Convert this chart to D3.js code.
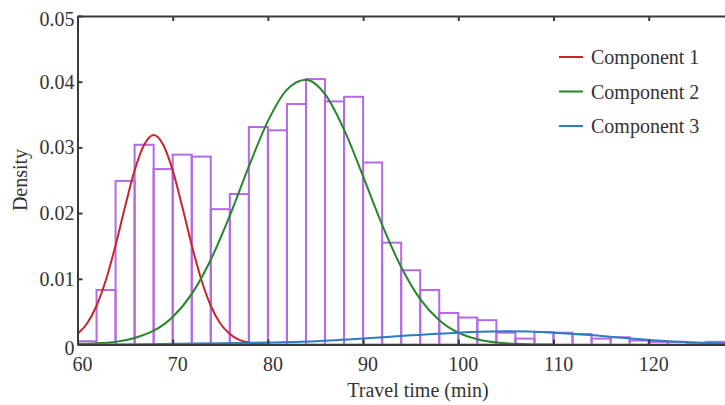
<!DOCTYPE html>
<html>
<head>
<meta charset="utf-8">
<script src="https://cdn.jsdelivr.net/npm/d3@7"></script>
<style>
  body { margin: 0; background: #fff; }
  svg { display: block; font-family: "Liberation Serif", "Times New Roman", serif; }
</style>
</head>
<body>
<div id="chart"></div>
<script>
// histogram, bin width 2 min, left edges
const binLefts = [60, 62, 64, 66, 68, 70, 72, 74, 76, 78, 80, 82, 84, 86, 88, 90, 92,
  94, 96, 98, 100, 102, 104, 106, 108, 110, 112, 114, 116, 118, 120, 122, 124, 126];
const binDensity = [0.0005, 0.0083, 0.0249, 0.0304, 0.0267, 0.0289, 0.0286, 0.0206, 0.0229,
  0.0331, 0.0326, 0.0366, 0.0404, 0.0370, 0.0377, 0.0277, 0.0155, 0.0113, 0.0083, 0.0048,
  0.0041, 0.0037, 0.0018, 0.0009, 0.0019, 0.0018, 0.0016, 0.0009, 0.0011, 0.0006, 0.0004,
  0.0004, 0.0001, 0.0004];
const binWidth = 2;

// mixture component curves
const comp1X = [60, 61, 62, 63, 64, 65, 66, 67, 68, 69, 70, 71, 72, 73, 74, 75, 76, 77, 78, 79, 80];
const comp1Y = [0.0016, 0.0032, 0.0059, 0.0099, 0.0151, 0.0210, 0.0265, 0.0304, 0.0319, 0.0304,
  0.0265, 0.0210, 0.0151, 0.0099, 0.0059, 0.0032, 0.0016, 0.0007, 0.0003, 0.0001, 0.0000];

const comp2X = [60, 62, 64, 66, 68, 70, 72, 74, 76, 78, 80, 82, 84, 86, 88, 90, 92, 94, 96,
  98, 100, 102, 104, 106, 108, 110];
const comp2Y = [0.0001, 0.0002, 0.0004, 0.0010, 0.0021, 0.0042, 0.0077, 0.0129, 0.0196, 0.0271,
  0.0340, 0.0388, 0.0403, 0.0381, 0.0327, 0.0256, 0.0182, 0.0118, 0.0069, 0.0037, 0.0018,
  0.0008, 0.0003, 0.0001, 0.0000, 0.0000];

const comp3X = [60, 65, 70, 75, 80, 85, 90, 95, 100, 105, 110, 115, 120, 125, 130];
const comp3Y = [0.0000, 0.0000, 0.0001, 0.0002, 0.0003, 0.0005, 0.0009, 0.0014, 0.0018, 0.0020,
  0.0018, 0.0013, 0.0007, 0.0003, 0.0001];

const compNames = ["Component 1", "Component 2", "Component 3"];
const compColors = ["#c8262c", "#27862a", "#2b7cc0"];

const xTicks = [60, 70, 80, 90, 100, 110, 120];
const yTicks = [0, 0.01, 0.02, 0.03, 0.04, 0.05];

const width = 725, height = 405;
const [mt, ml] = [16, 77.5];
const bottom = 344.5;

const x = d3.scaleLinear([60, 130], [ml, ml + 70 * 9.52]);
const y = d3.scaleLinear([0, 0.05], [bottom, mt]);

const svg = d3.select("#chart").append("svg")
  .attr("width", width)
  .attr("height", height)
  .attr("viewBox", [0, 0, width, height]);

svg.append("clipPath").attr("id", "plot")
  .append("rect")
  .attr("x", ml).attr("y", mt - 2)
  .attr("width", width - ml).attr("height", bottom - mt + 2);

const plot = svg.append("g").attr("clip-path", "url(#plot)");

// bars (outline only)
plot.append("g")
  .selectAll("rect")
  .data(binLefts.map((b, i) => ({ b, v: binDensity[i] })))
  .join("rect")
  .attr("x", d => x(d.b))
  .attr("y", d => y(d.v))
  .attr("width", d => x(d.b + binWidth) - x(d.b))
  .attr("height", d => y(0) - y(d.v))
  .attr("fill", "none")
  .attr("stroke", "#b46ae4")
  .attr("stroke-width", 2);

const line = d3.line()
  .x(d => x(d[0]))
  .y(d => y(d[1]))
  .curve(d3.curveMonotoneX);

const comps = [
  d3.zip(comp1X, comp1Y),
  d3.zip(comp2X, comp2Y),
  d3.zip(comp3X, comp3Y)
];

plot.append("g")
  .selectAll("path")
  .data(comps)
  .join("path")
  .attr("d", line)
  .attr("fill", "none")
  .attr("stroke", (d, i) => compColors[i])
  .attr("stroke-width", 2);

// axes, ticks inward
const axisColor = "#3a3a3a";
const fmtY = d => d === 0 ? "0" : d3.format(".2f")(d);

const gx = svg.append("g")
  .attr("transform", `translate(0,${bottom})`)
  .call(d3.axisBottom(x).tickValues(xTicks).tickSize(-5).tickSizeOuter(0).tickPadding(26));

const gt = svg.append("g")
  .attr("transform", `translate(0,${mt})`)
  .call(d3.axisTop(x).tickValues(xTicks).tickSize(-5).tickSizeOuter(0).tickFormat(""));

const gy = svg.append("g")
  .attr("transform", `translate(${ml},0)`)
  .call(d3.axisLeft(y).tickValues(yTicks).tickFormat(fmtY).tickSize(-5).tickSizeOuter(0).tickPadding(3));

[gx, gt, gy].forEach(g => {
  g.select(".domain").attr("stroke", axisColor).attr("stroke-width", 2);
  g.selectAll(".tick line").attr("stroke", axisColor).attr("stroke-width", 2);
  g.selectAll(".tick text")
    .attr("fill", "#333")
    .style("font-family", "Liberation Serif, serif")
    .style("font-size", "20px");
});
gx.selectAll(".tick text").attr("dx", 4.5).attr("dy", 0);
gy.select(".tick:last-of-type text").attr("dy", "0.45em");
gy.select(".tick:first-of-type text").attr("dy", "0.5em");

// titles
svg.append("text")
  .attr("x", 418)
  .attr("y", 397)
  .attr("text-anchor", "middle")
  .attr("fill", "#333")
  .style("font-size", "20px")
  .text("Travel time (min)");

svg.append("text")
  .attr("transform", `translate(27,180) rotate(-90)`)
  .attr("text-anchor", "middle")
  .attr("fill", "#333")
  .style("font-size", "20px")
  .text("Density");

// legend
const legend = svg.append("g")
  .selectAll("g")
  .data(compNames)
  .join("g")
  .attr("transform", (d, i) => `translate(559,${57 + i * 34.5})`);

legend.append("line")
  .attr("x1", 0).attr("x2", 24)
  .attr("stroke", (d, i) => compColors[i])
  .attr("stroke-width", 2);

legend.append("text")
  .attr("x", 32)
  .attr("dy", "0.35em")
  .attr("fill", "#333")
  .style("font-size", "20px")
  .text(d => d);
</script>
</body>
</html>
